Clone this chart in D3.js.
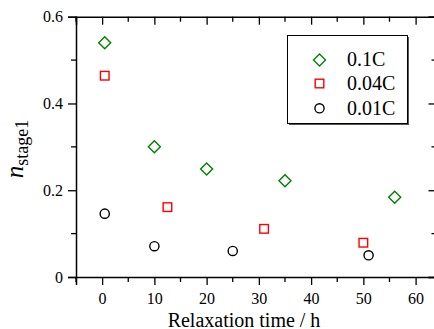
<!DOCTYPE html>
<html lang="en">
<head>
<meta charset="UTF-8">
<title>n stage1 vs relaxation time</title>
<script src="https://d3js.org/d3.v7.min.js"></script>
<style>
    body { margin: 0; background: #fff; }
    text { font-family: "Liberation Serif", "Times New Roman", serif; fill: #000; }
</style>
</head>
<body>
<svg id="chart" width="434" height="329"></svg>
<script>
    // data
    let series_names = ["0.1C", "0.04C", "0.01C"]
    let series_colors = ["#008000", "#ff0000", "#000000"]
    let series_shapes = ["diamond", "square", "circle"]

    let time_01C = [0.5, 10, 20, 35, 56]
    let n_01C = [0.540, 0.300, 0.249, 0.222, 0.184]

    let time_004C = [0.5, 12.5, 31, 50]
    let n_004C = [0.464, 0.161, 0.111, 0.079]

    let time_001C = [0.5, 10, 25, 51]
    let n_001C = [0.146, 0.071, 0.060, 0.050]

    let x_ticks = [0, 10, 20, 30, 40, 50, 60]
    let y_ticks = [0, 0.2, 0.4, 0.6]

    let svg = d3.select("#chart")

    let x = d3.scaleLinear().domain([-5, 64]).range([76, 436.5])
    let y = d3.scaleLinear().domain([0, 0.6]).range([277, 16.7])

    let xMinor = d3.range(-5, 65, 5).filter(d => x_ticks.indexOf(d) < 0)
    let yMinor = [0.1, 0.3, 0.5]

    // bottom axis (ticks outside)
    let gB = svg.append("g").attr("transform", "translate(0," + y(0) + ")")
    gB.call(d3.axisBottom(x).tickValues(x_ticks).tickSize(8).tickPadding(8).tickFormat(d3.format("d")))
    gB.selectAll(".minor").data(xMinor).enter().append("line")
        .attr("x1", d => x(d)).attr("x2", d => x(d)).attr("y1", 0).attr("y2", 5)
        .attr("stroke", "#000").attr("stroke-width", 1.3)

    // top axis (ticks inside)
    let gT = svg.append("g").attr("transform", "translate(0," + y(0.6) + ")")
    gT.call(d3.axisTop(x).tickValues(x_ticks).tickSize(-8).tickFormat(""))
    gT.selectAll(".minor").data(xMinor).enter().append("line")
        .attr("x1", d => x(d)).attr("x2", d => x(d)).attr("y1", 0).attr("y2", 5)
        .attr("stroke", "#000").attr("stroke-width", 1.3)

    // left axis (ticks outside)
    let gL = svg.append("g").attr("transform", "translate(" + x(-5) + ",0)")
    gL.call(d3.axisLeft(y).tickValues(y_ticks).tickSize(8).tickPadding(5)
        .tickFormat(d => d === 0 ? "0" : d3.format(".1f")(d)))
    gL.selectAll(".minor").data(yMinor).enter().append("line")
        .attr("x1", 0).attr("x2", -5).attr("y1", d => y(d)).attr("y2", d => y(d))
        .attr("stroke", "#000").attr("stroke-width", 1.3)

    // right axis (ticks inside)
    let gR = svg.append("g").attr("transform", "translate(" + x(64) + ",0)")
    gR.call(d3.axisRight(y).tickValues(y_ticks).tickSize(-8).tickFormat(""))
    gR.selectAll(".minor").data(yMinor).enter().append("line")
        .attr("x1", 0).attr("x2", -5).attr("y1", d => y(d)).attr("y2", d => y(d))
        .attr("stroke", "#000").attr("stroke-width", 1.3)

    svg.selectAll(".domain").attr("stroke", "#000").attr("stroke-width", 1.5)
    svg.selectAll(".tick line").attr("stroke", "#000").attr("stroke-width", 1.3)
    svg.selectAll(".tick text").attr("font-size", 16).attr("fill", "#000")
        .attr("font-family", "'Liberation Serif', 'Times New Roman', serif")

    // axis titles
    svg.append("text")
        .attr("x", 244).attr("y", 326.5)
        .attr("text-anchor", "middle")
        .attr("font-size", 20)
        .text("Relaxation time / h")

    let yTitle = svg.append("text")
        .attr("transform", "translate(23,149) rotate(-90)")
        .attr("text-anchor", "middle")
        .attr("font-size", 25)
    yTitle.append("tspan").attr("font-style", "italic").text("n")
    yTitle.append("tspan").attr("font-size", 18).attr("dy", 5).text("stage1")

    // markers
    function drawMarker(g, shape, color, cx, cy) {
        if (shape === "diamond") {
            g.append("path")
                .attr("d", "M" + cx + "," + (cy - 6) + "L" + (cx + 6) + "," + cy + "L" + cx + "," + (cy + 6) + "L" + (cx - 6) + "," + cy + "Z")
                .attr("fill", "none").attr("stroke", color).attr("stroke-width", 1.4)
        } else if (shape === "square") {
            g.append("rect")
                .attr("x", cx - 4.3).attr("y", cy - 4.3).attr("width", 8.6).attr("height", 8.6)
                .attr("fill", "none").attr("stroke", color).attr("stroke-width", 1.4)
        } else {
            g.append("circle")
                .attr("cx", cx).attr("cy", cy).attr("r", 4.6)
                .attr("fill", "none").attr("stroke", color).attr("stroke-width", 1.4)
        }
    }

    let all_times = [time_01C, time_004C, time_001C]
    let all_n = [n_01C, n_004C, n_001C]

    let gPts = svg.append("g")
    for (let s = 0; s < 3; s++) {
        for (let i = 0; i < all_times[s].length; i++) {
            drawMarker(gPts, series_shapes[s], series_colors[s], x(all_times[s][i]), y(all_n[s][i]))
        }
    }

    // legend
    let legend = svg.append("g")
    legend.append("rect")
        .attr("x", 289).attr("y", 37).attr("width", 120).attr("height", 88)
        .attr("fill", "#555")
    legend.append("rect")
        .attr("x", 287.5).attr("y", 35.5).attr("width", 120).attr("height", 88)
        .attr("fill", "#fff").attr("stroke", "#000").attr("stroke-width", 1)
    let legend_y = [60, 83.5, 108.3]
    let legend_base = [66, 90, 115]
    for (let s = 0; s < 3; s++) {
        drawMarker(legend, series_shapes[s], series_colors[s], 319.5, legend_y[s])
        legend.append("text")
            .attr("x", 347).attr("y", legend_base[s])
            .attr("font-size", 20)
            .text(series_names[s])
    }
</script>
</body>
</html>
